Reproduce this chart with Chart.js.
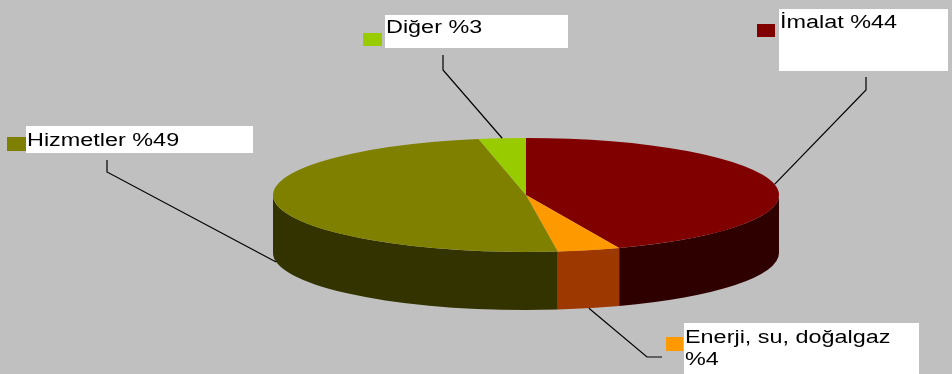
<!DOCTYPE html>
<html>
<head>
<meta charset="utf-8">
<script src="https://cdn.jsdelivr.net/npm/chart.js@4"></script>
<style>
  html, body { margin: 0; padding: 0; background: #c0c0c0; }
  #wrap { width: 952px; height: 374px; position: relative; }
</style>
</head>
<body>
<div id="wrap"><canvas id="pie"></canvas></div>
<script>
// data
const categories = ['İmalat', 'Enerji, su, doğalgaz', 'Hizmetler', 'Diğer'];
const shares = [44, 4, 49, 3];
const topColors = ['#800000', '#ff9900', '#808000', '#99cc00'];
const sideColors = ['#2e0000', '#9c3800', '#333300', '#4d6600'];

// look of the 3d pie
const RX = 253, RY = 57, DEPTH = 58;
const TEXT_STRETCH = 1.3;

// label boxes: box rect, marker rect, baselines, leader elbow points
const labelBoxes = [
    { box: [779, 9, 169, 62], marker: [757, 24, 18, 13], baselines: [28], elbow: [[866, 90], [866, 77]] },
    { box: [684, 323, 235, 51], marker: [666, 337, 17, 14], baselines: [343, 365], elbow: [[647, 357], [662, 357]], wrap: true },
    { box: [26, 126, 227, 27], marker: [7, 137, 19, 14], baselines: [146], elbow: [[107, 172], [107, 160]] },
    { box: [385, 15, 183, 33], marker: [363, 33, 19, 13], baselines: [33], elbow: [[443, 70], [443, 55]] }
];

function ellipseMap(arc, angle) {
    // point on the flattened rim for a canvas angle
    return [arc.x + RX * Math.cos(angle), arc.y + RY * Math.sin(angle)];
}

const pie3d = {
    id: 'pie3d',
    beforeDatasetsDraw(chart) {
        const ctx = chart.ctx;
        const arcs = chart.getDatasetMeta(0).data;
        const a0 = arcs[0];
        const r = a0.outerRadius;
        //side walls, only the front half (angles 0..PI) can be seen
        arcs.forEach((arc, i) => {
            const s = Math.max(arc.startAngle, 0);
            const e = Math.min(arc.endAngle, Math.PI);
            if (e <= s) return;
            ctx.beginPath();
            ctx.ellipse(arc.x, arc.y, RX, RY, 0, s, e);
            ctx.ellipse(arc.x, arc.y + DEPTH, RX, RY, 0, e, s, true);
            ctx.closePath();
            ctx.fillStyle = sideColors[i];
            ctx.fill();
        });
        //flatten the top face drawn by chart.js
        ctx.save();
        ctx.translate(a0.x, a0.y);
        ctx.scale(RX / r, RY / r);
        ctx.translate(-a0.x, -a0.y);
    },
    afterDatasetsDraw(chart) {
        const ctx = chart.ctx;
        ctx.restore();
        const arcs = chart.getDatasetMeta(0).data;

        arcs.forEach((arc, i) => {
            const lb = labelBoxes[i];
            const mid = (arc.startAngle + arc.endAngle) / 2;
            let [ax, ay] = ellipseMap(arc, mid);
            if (Math.sin(mid) > 0) ay += DEPTH;

            // leader line
            ctx.save();
            ctx.strokeStyle = '#000';
            ctx.lineWidth = 1.2;
            ctx.beginPath();
            ctx.moveTo(ax, ay);
            lb.elbow.forEach(p => ctx.lineTo(p[0], p[1]));
            ctx.stroke();
            ctx.restore();

            // box and marker
            ctx.fillStyle = '#ffffff';
            ctx.fillRect(lb.box[0], lb.box[1], lb.box[2], lb.box[3]);
            ctx.fillStyle = topColors[i];
            ctx.fillRect(lb.marker[0], lb.marker[1], lb.marker[2], lb.marker[3]);

            // text
            const lines = lb.wrap
                ? [categories[i], '%' + shares[i]]
                : [categories[i] + ' %' + shares[i]];
            ctx.fillStyle = '#000';
            ctx.font = '18px "Liberation Sans", Arial, sans-serif';
            ctx.textBaseline = 'alphabetic';
            ctx.textAlign = 'left';
            lines.forEach((t, k) => {
                ctx.save();
                ctx.translate(lb.box[0] + 1, lb.baselines[k]);
                ctx.scale(TEXT_STRETCH, 1);
                ctx.fillText(t, 0, 0);
                ctx.restore();
            });
        });
    }
};

new Chart(document.getElementById('pie'), {
    type: 'pie',
    data: {
        labels: categories,
        datasets: [{
            data: shares,
            backgroundColor: topColors,
            borderWidth: 0,
            clip: false
        }]
    },
    options: {
        responsive: true,
        maintainAspectRatio: false,
        animation: false,
        events: [],
        layout: { padding: { left: 376, right: 276, top: 45, bottom: 29 } },
        plugins: {
            legend: { display: false },
            tooltip: { enabled: false }
        }
    },
    plugins: [pie3d]
});
</script>
</body>
</html>
